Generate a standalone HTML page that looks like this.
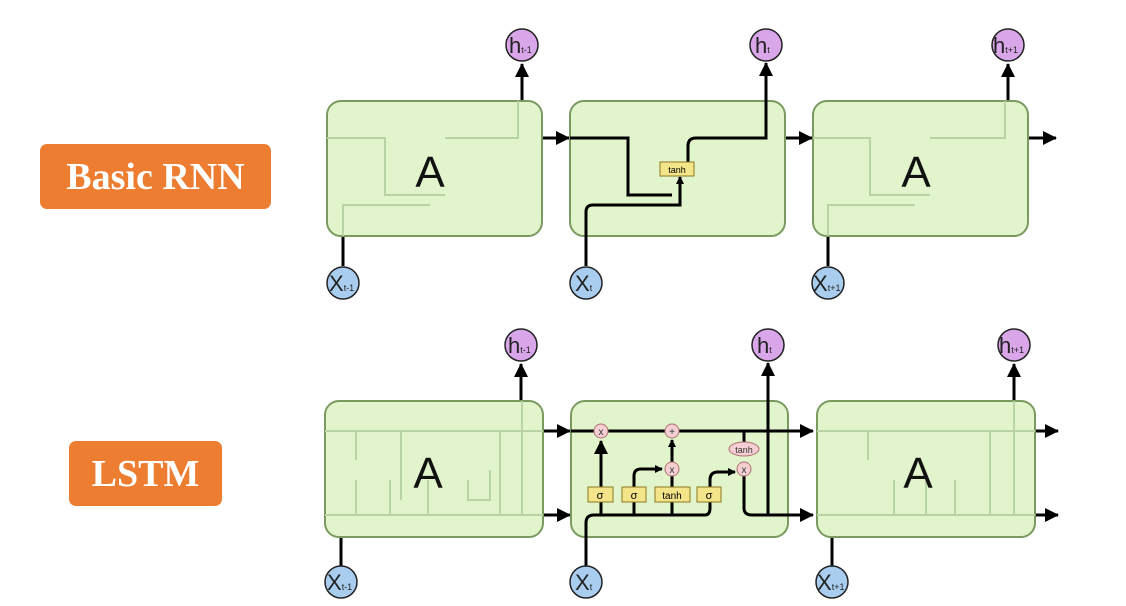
<!DOCTYPE html>
<html><head><meta charset="utf-8"><style>
html,body{margin:0;padding:0;background:#fff;width:1126px;height:606px;overflow:hidden}
.lbl{position:absolute;background:#ED7D31;color:#fff;font-family:"Liberation Serif",serif;font-weight:bold;font-size:38px;display:flex;align-items:center;justify-content:center;border-radius:7px}
svg{position:absolute;left:0;top:0}
</style></head><body>
<div class="lbl" style="left:40px;top:144px;width:231px;height:65px">Basic RNN</div>
<div class="lbl" style="left:69px;top:441px;width:153px;height:65px">LSTM</div>
<svg width="1126" height="606" viewBox="0 0 1126 606" font-family="Liberation Sans, sans-serif">
<defs>
<marker id="a" markerWidth="8" markerHeight="8" refX="7" refY="4" orient="auto" markerUnits="userSpaceOnUse" viewBox="0 0 8 8"><path d="M0,0 L8,4 L0,8z" fill="#000"/></marker>
<marker id="b" markerWidth="14" markerHeight="14" refX="13" refY="7" orient="auto" markerUnits="userSpaceOnUse" viewBox="0 0 14 14"><path d="M0,0 L14,7 L0,14z" fill="#000"/></marker>
</defs>
<g stroke="#000" stroke-width="3" fill="none">
<!-- top row connectors -->
<line x1="522" y1="101" x2="522" y2="64" marker-end="url(#b)"/>
<line x1="1008" y1="101" x2="1008" y2="64" marker-end="url(#b)"/>
<line x1="542" y1="138" x2="569" y2="138" marker-end="url(#b)"/>
<line x1="785" y1="138" x2="812" y2="138" marker-end="url(#b)"/>
<line x1="1028" y1="138" x2="1056" y2="138" marker-end="url(#b)"/>
<line x1="343" y1="236" x2="343" y2="266"/>
<line x1="828" y1="236" x2="828" y2="266"/>
<!-- bottom row -->
<line x1="521" y1="401" x2="521" y2="364" marker-end="url(#b)"/>
<line x1="1014" y1="401" x2="1014" y2="364" marker-end="url(#b)"/>
<line x1="543" y1="431" x2="570" y2="431" marker-end="url(#b)"/>
<line x1="543" y1="515" x2="570" y2="515" marker-end="url(#b)"/>
<line x1="1035" y1="431" x2="1058" y2="431" marker-end="url(#b)"/>
<line x1="1035" y1="515" x2="1058" y2="515" marker-end="url(#b)"/>
<line x1="341" y1="537" x2="341" y2="566"/>
<line x1="832" y1="537" x2="832" y2="566"/>
</g>
<!-- boxes -->
<g fill="#dff3c8" fill-opacity="0.95" stroke="#7a9a60" stroke-width="2">
<rect x="327" y="101" width="215" height="135" rx="14"/>
<rect x="570" y="101" width="215" height="135" rx="14"/>
<rect x="813" y="101" width="215" height="135" rx="14"/>
<rect x="325" y="401" width="218" height="136" rx="14"/>
<rect x="571" y="401" width="217" height="136" rx="14"/>
<rect x="817" y="401" width="218" height="136" rx="14"/>
</g>
<!-- faint internals -->
<g stroke="#b9d3a4" stroke-width="2" fill="none">
<path d="M327,138 H385 V195 H445"/><path d="M343,236 V205 H430"/><path d="M445,138 H518 V101"/>
<path d="M813,138 H870 V195 H930"/><path d="M828,236 V205 H915"/><path d="M930,138 H1005 V101"/>
<path d="M325,431 H543 M325,515 H543 M356,431 V460 M401,431 V500 M356,480 V515 M390,480 V515 M428,480 V515 M468,480 V500 H490 V470 M500,431 V515 H543 M522,401 V515"/>
<path d="M817,431 H1035 M817,515 H1035 M868,431 V460 M894,480 V515 M926,480 V515 M955,480 V515 M990,431 V515 H1035 M1014,401 V515"/>
</g>
<g font-size="44" fill="#111" text-anchor="middle">
<text x="430" y="187">A</text><text x="916" y="187">A</text>
<text x="428" y="488">A</text><text x="918" y="488">A</text>
</g>
<!-- middle RNN -->
<g stroke="#000" stroke-width="3" fill="none">
<path d="M570,138 H628 V195 H672"/>
<path d="M586,266 V212 Q586,205 593,205 H680 V177" marker-end="url(#a)"/>
<path d="M688,162 V146 Q688,138 696,138 H766 V63" marker-end="url(#b)"/>
</g>
<rect x="660" y="162" width="34" height="14" fill="#f5e58a" stroke="#8a7a20" stroke-width="1"/>
<text x="677" y="173" font-size="9" text-anchor="middle">tanh</text>
<!-- middle LSTM -->
<g stroke="#000" stroke-width="3" fill="none">
<line x1="571" y1="431" x2="813" y2="431" marker-end="url(#b)"/>
<line x1="586" y1="566" x2="586" y2="523"/>
<path d="M586,523 Q586,515 594,515 H705 Q710,515 710,508 V480 Q710,472 718,472 H735" marker-end="url(#a)"/>
<line x1="601" y1="487" x2="601" y2="441" marker-end="url(#b)"/>
<line x1="601" y1="515" x2="601" y2="502"/>
<path d="M634,515 V476 Q634,469 641,469 H662" marker-end="url(#a)"/>
<line x1="672" y1="515" x2="672" y2="502"/>
<line x1="672" y1="487" x2="672" y2="475"/>
<line x1="672" y1="463" x2="672" y2="440" marker-end="url(#a)"/>
<line x1="744" y1="431" x2="744" y2="443"/>
<path d="M744,475 V508 Q744,515 752,515 H813" marker-end="url(#b)"/>
<line x1="768" y1="515" x2="768" y2="363" marker-end="url(#b)"/>
</g>
<g fill="#f5cfd3" stroke="#b07070" stroke-width="1">
<circle cx="601" cy="431" r="7"/><circle cx="672" cy="431" r="7"/><circle cx="672" cy="469" r="7"/><circle cx="744" cy="469" r="7"/>
<ellipse cx="744" cy="449" rx="15" ry="7"/>
</g>
<g font-size="10" text-anchor="middle" fill="#333">
<text x="601" y="435">x</text><text x="672" y="435">+</text><text x="672" y="473">x</text><text x="744" y="473">x</text><text x="744" y="453" font-size="9">tanh</text>
</g>
<g fill="#f5e58a" stroke="#8a7a20" stroke-width="1">
<rect x="588" y="487" width="25" height="15"/><rect x="622" y="487" width="24" height="15"/><rect x="655" y="487" width="35" height="15"/><rect x="697" y="487" width="24" height="15"/>
</g>
<g font-size="11" text-anchor="middle">
<text x="600" y="499">σ</text><text x="634" y="499">σ</text><text x="672" y="499" font-size="10">tanh</text><text x="709" y="499">σ</text>
</g>
<!-- h circles -->
<g fill="#d9a6ea" stroke="#222" stroke-width="1.5">
<circle cx="522" cy="45" r="16"/><circle cx="766" cy="45" r="16"/><circle cx="1008" cy="45" r="16"/>
<circle cx="521" cy="345" r="16"/><circle cx="768" cy="345" r="16"/><circle cx="1014" cy="345" r="16"/>
</g>
<g fill="#a9cdef" stroke="#222" stroke-width="1.5">
<circle cx="343" cy="283" r="16"/><circle cx="586" cy="283" r="16"/><circle cx="828" cy="283" r="16"/>
<circle cx="341" cy="582" r="16"/><circle cx="586" cy="582" r="16"/><circle cx="832" cy="582" r="16"/>
</g>
<g font-size="22" fill="#222">
<text x="509" y="53">h<tspan font-size="9">t-1</tspan></text>
<text x="755" y="53">h<tspan font-size="9">t</tspan></text>
<text x="993" y="53">h<tspan font-size="9">t+1</tspan></text>
<text x="508" y="353">h<tspan font-size="9">t-1</tspan></text>
<text x="757" y="353">h<tspan font-size="9">t</tspan></text>
<text x="999" y="353">h<tspan font-size="9">t+1</tspan></text>
<text x="329" y="291">X<tspan font-size="9">t-1</tspan></text>
<text x="575" y="291">X<tspan font-size="9">t</tspan></text>
<text x="813" y="291">X<tspan font-size="9">t+1</tspan></text>
<text x="327" y="590">X<tspan font-size="9">t-1</tspan></text>
<text x="575" y="590">X<tspan font-size="9">t</tspan></text>
<text x="817" y="590">X<tspan font-size="9">t+1</tspan></text>
</g>
</svg>
</body></html>
